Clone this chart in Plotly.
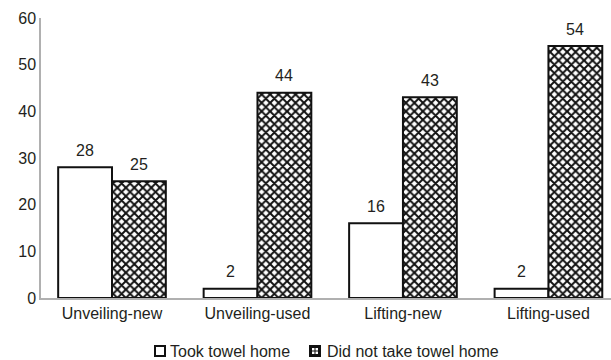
import plotly.graph_objects as go

# Towel outcome counts by condition
categories = ["Unveiling-new", "Unveiling-used", "Lifting-new", "Lifting-used"]
took_home = [28, 2, 16, 2]
did_not_take = [25, 44, 43, 54]
series_names = ["Took towel home", "Did not take towel home"]
y_ticks = [0, 10, 20, 30, 40, 50, 60]

FONT = "Liberation Sans, Arial, sans-serif"
TEXT_COLOR = "#231f20"
BAR_OFFSET_PX = 27   # half a bar width: grouped bars sit either side of the category centre
LABEL_LIFT_PX = 17   # value labels float above the bar top

W, H = 611, 360
M_L, M_R, M_T, M_B = 41, 0, 18, 62
PLOT_W = W - M_L - M_R
PLOT_H = H - M_T - M_B


def px_to_paper_x(px):
    return (px - M_L) / PLOT_W


def px_to_paper_y(py):
    return (H - M_B - py) / PLOT_H


fig = go.Figure()

fig.add_trace(go.Bar(
    name=series_names[0],
    x=categories,
    y=took_home,
    marker=dict(color="white", line=dict(color="#111111", width=2)),
))

fig.add_trace(go.Bar(
    name=series_names[1],
    x=categories,
    y=did_not_take,
    marker=dict(
        color="white",
        line=dict(color="#111111", width=2),
        pattern=dict(shape="x", fgcolor="#111111", bgcolor="white",
                     size=6, solidity=0.55, fillmode="replace"),
    ),
))

# value labels above each bar
for series, shift in ((took_home, -BAR_OFFSET_PX), (did_not_take, BAR_OFFSET_PX)):
    for cat, val in zip(categories, series):
        fig.add_annotation(
            x=cat, y=val, text=str(val), showarrow=False,
            xshift=shift, yshift=LABEL_LIFT_PX, yanchor="middle",
            font=dict(family=FONT, size=16, color=TEXT_COLOR),
        )

# legend drawn below the axis: small key squares sitting right next to their text
LEGEND_CY = 351
KEY = 10
legend_items = [(155, 168, False), (310, 325, True)]
for (kx, tx, patterned), label in zip(legend_items, series_names):
    x0, x1 = px_to_paper_x(kx), px_to_paper_x(kx + KEY)
    y0, y1 = px_to_paper_y(LEGEND_CY + KEY / 2), px_to_paper_y(LEGEND_CY - KEY / 2)
    fig.add_shape(type="rect", xref="paper", yref="paper",
                  x0=x0, x1=x1, y0=y0, y1=y1,
                  fillcolor="#111111" if patterned else "white",
                  line=dict(color="#111111", width=2))
    if patterned:
        for dx, dy in ((2, 2), (5.5, 2), (2, 5.5), (5.5, 5.5)):
            fig.add_shape(type="rect", xref="paper", yref="paper",
                          x0=px_to_paper_x(kx + dx), x1=px_to_paper_x(kx + dx + 2.5),
                          y0=px_to_paper_y(LEGEND_CY - KEY / 2 + dy + 2.5),
                          y1=px_to_paper_y(LEGEND_CY - KEY / 2 + dy),
                          fillcolor="white", line=dict(width=0))
    fig.add_annotation(
        xref="paper", yref="paper",
        x=px_to_paper_x(tx), y=px_to_paper_y(LEGEND_CY),
        xanchor="left", yanchor="middle", showarrow=False,
        text=label, font=dict(family=FONT, size=16, color=TEXT_COLOR),
    )

fig.update_layout(
    width=W,
    height=H,
    margin=dict(l=M_L, r=M_R, t=M_T, b=M_B, autoexpand=False),
    paper_bgcolor="white",
    plot_bgcolor="white",
    barmode="group",
    bargap=0.26,
    bargroupgap=0,
    font=dict(family=FONT, size=16, color=TEXT_COLOR),
    showlegend=False,
    xaxis=dict(
        type="category",
        range=[-0.488, 3.43],
        showline=True,
        linecolor="#b0b0b0",
        linewidth=1.5,
        ticks="",
        showgrid=False,
        tickfont=dict(family=FONT, size=16, color=TEXT_COLOR),
    ),
    yaxis=dict(
        range=[0, 60],
        tickvals=y_ticks,
        showline=True,
        linecolor="#b0b0b0",
        linewidth=1.5,
        ticks="",
        showgrid=False,
        zeroline=False,
        tickfont=dict(family=FONT, size=16, color=TEXT_COLOR),
    ),
)

fig.write_html("out.html")
